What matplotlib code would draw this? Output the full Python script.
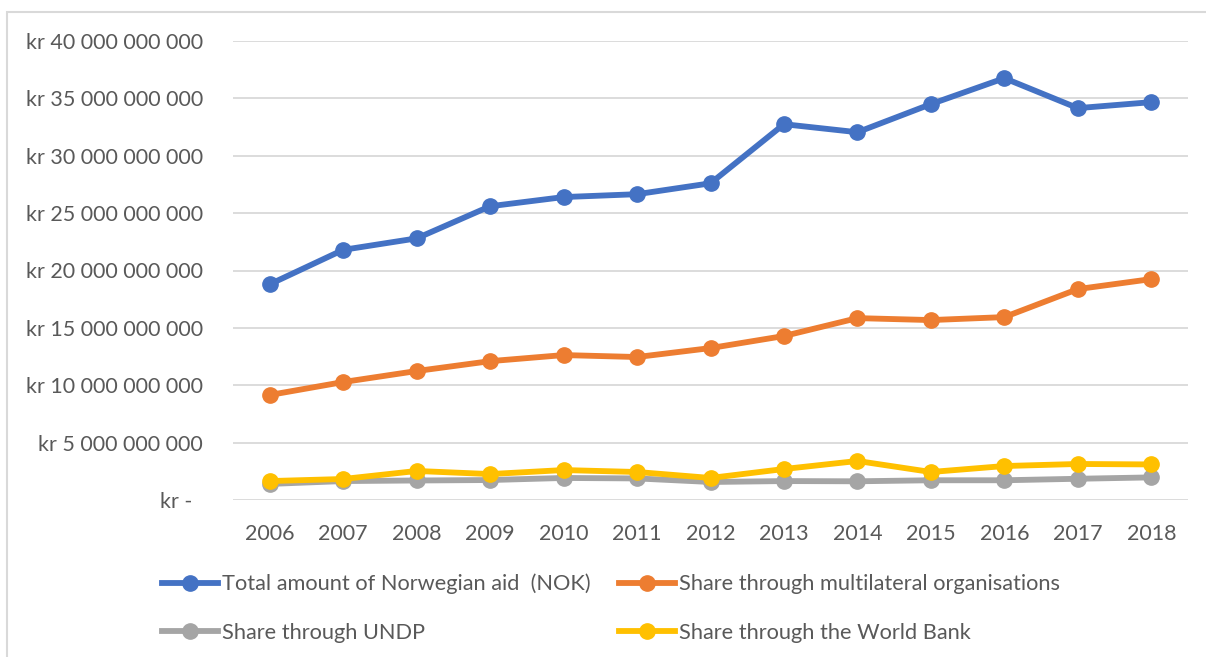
import matplotlib
matplotlib.use("Agg")
import matplotlib.pyplot as plt
from matplotlib.ticker import FuncFormatter, MultipleLocator
from matplotlib.patches import Rectangle
from matplotlib.lines import Line2D

years = ["2006", "2007", "2008", "2009", "2010", "2011", "2012",
         "2013", "2014", "2015", "2016", "2017", "2018"]
total_aid = [18.8, 21.8, 22.8, 25.6, 26.4, 26.65, 27.6, 32.75, 32.05, 34.5, 36.76, 34.15, 34.67]
multilateral = [9.15, 10.28, 11.24, 12.1, 12.63, 12.46, 13.24, 14.29, 15.85, 15.68, 15.94, 18.38, 19.25]
undp = [1.4, 1.65, 1.7, 1.74, 1.92, 1.88, 1.57, 1.65, 1.63, 1.72, 1.72, 1.85, 1.97]
world_bank = [1.65, 1.83, 2.53, 2.26, 2.61, 2.44, 1.92, 2.7, 3.4, 2.44, 2.96, 3.14, 3.1]

labels = ["Total amount of Norwegian aid  (NOK)", "Share through multilateral organisations",
          "Share through UNDP", "Share through the World Bank"]
colors = ["#4472C4", "#ED7D31", "#A5A5A5", "#FFC000"]

plt.rcParams["font.family"] = ["Lato", "DejaVu Sans"]
text_color = "#595959"

W, H = 1206, 657
fig = plt.figure(figsize=(W / 100, H / 100), dpi=100)
ax = fig.add_axes([233 / W, 1 - 500 / H, (1188 - 233) / W, (500 - 41) / H])

x = list(range(len(years)))
series = [total_aid, multilateral, undp, world_bank]
for i in range(4):
    vals = [v * 1e9 for v in series[i]]
    ax.plot(x, vals, color=colors[i], lw=4.2, marker="o", ms=11,
            solid_capstyle="round", zorder=3 + i)

ax.set_xlim(-0.5, len(years) - 0.5)
ax.set_ylim(0, 40e9)
ax.yaxis.set_major_locator(MultipleLocator(5e9))


def fmt(v, pos):
    if v == 0:
        return "kr -  "
    s = f"{int(round(v)):,}".replace(",", " ")
    return "kr " + s


ax.yaxis.set_major_formatter(FuncFormatter(fmt))
ax.set_xticks(x)
ax.set_xticklabels(years)
ax.grid(axis="y", color="#D9D9D9", lw=1.3)
ax.set_axisbelow(True)
for s in ax.spines.values():
    s.set_visible(False)
ax.tick_params(length=0, labelsize=15.5, labelcolor=text_color)
ax.tick_params(axis="y", pad=21.6)
ax.tick_params(axis="x", pad=17)

handles = [Line2D([0], [0], color=c, lw=4.2, marker="o", ms=11) for c in colors]
idx = [0, 2, 1, 3]
leg = fig.legend([handles[i] for i in idx], [labels[i] for i in idx],
                 loc="upper left", bbox_to_anchor=(142 / W, 1 - 554 / H),
                 ncol=2, frameon=False, fontsize=15.7, labelcolor=text_color,
                 handlelength=2.6, handletextpad=0.15, columnspacing=1.3,
                 labelspacing=1.3)

fig.patches.append(Rectangle((6.5 / W, -0.1), 1.2, 1 - 11.5 / H + 0.1,
                             transform=fig.transFigure, fill=False,
                             edgecolor="#D9D9D9", lw=1.5))

fig.savefig("out.png", dpi=100, facecolor="white")
